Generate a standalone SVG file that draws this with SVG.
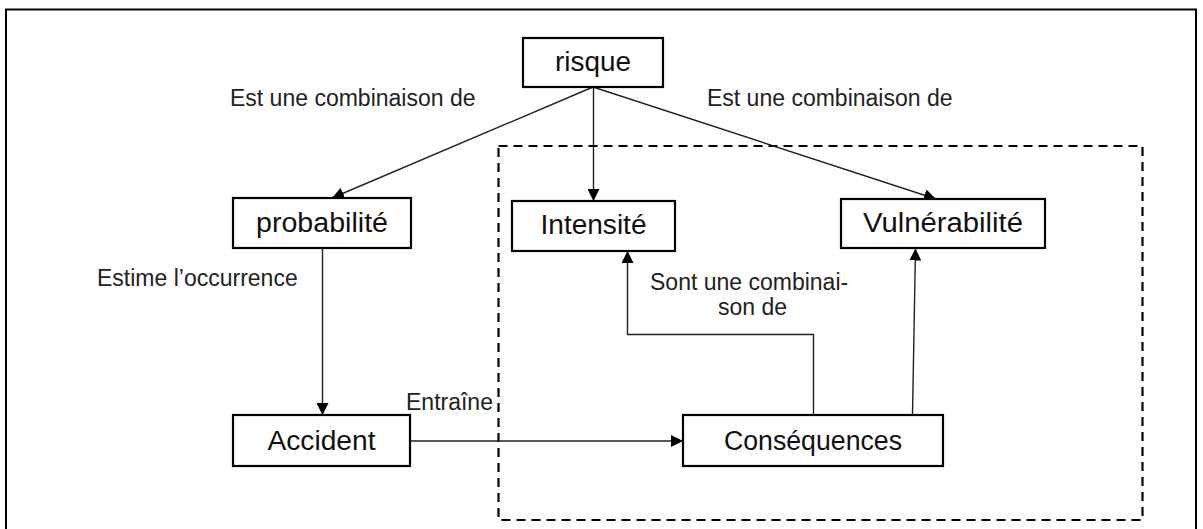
<svg xmlns="http://www.w3.org/2000/svg" width="1203" height="529" viewBox="0 0 1203 529">
<style>
.box{fill:#fff;stroke:#000;stroke-width:2.2}
.nt{font-family:"Liberation Sans",Arial,sans-serif;font-size:27px;fill:#111;text-anchor:middle}
.lt{font-family:"Liberation Sans",Arial,sans-serif;font-size:23px;fill:#222}
.cn{fill:none;stroke:#222;stroke-width:1.4}
</style>
<defs>
<marker id="ah" markerUnits="userSpaceOnUse" viewBox="0 0 12 12" refX="12" refY="6" markerWidth="12" markerHeight="12" orient="auto">
<path d="M0,0 L12,6 L0,12 z" fill="#000"/>
</marker>
</defs>
<rect x="0" y="0" width="1203" height="529" fill="#fff"/>
<rect x="6" y="9.5" width="1190" height="540" fill="none" stroke="#000" stroke-width="2"/>
<rect x="498.5" y="146" width="644" height="374" fill="none" stroke="#000" stroke-width="2.2" stroke-dasharray="9 6"/>
<g id="connectors">
<line class="cn" x1="593" y1="87" x2="332" y2="198" marker-end="url(#ah)"/>
<line class="cn" x1="593.5" y1="87" x2="593.5" y2="201" marker-end="url(#ah)"/>
<line class="cn" x1="593" y1="87" x2="936" y2="199" marker-end="url(#ah)"/>
<line class="cn" x1="322.5" y1="248" x2="322.5" y2="415" marker-end="url(#ah)"/>
<line class="cn" x1="410" y1="441" x2="683" y2="441" marker-end="url(#ah)"/>
<polyline class="cn" points="813.5,415 813.5,334.5 627.5,334.5 627.5,251" marker-end="url(#ah)"/>
<line class="cn" x1="912.5" y1="415" x2="915.5" y2="248.5" marker-end="url(#ah)"/>
</g>
<g id="labels">
<text class="lt" x="230" y="106">Est une combinaison de</text>
<text class="lt" x="707" y="106">Est une combinaison de</text>
<text class="lt" x="97" y="286">Estime l’occurrence</text>
<text class="lt" x="406" y="410">Entraîne</text>
<text class="lt" x="650" y="290">Sont une combinai-</text>
<text class="lt" x="718" y="315">son de</text>
</g>
<g id="risque"><rect class="box" x="523" y="38" width="140" height="49"/><text class="nt" x="593" y="71" textLength="76" lengthAdjust="spacingAndGlyphs">risque</text></g>
<g id="probabilite"><rect class="box" x="233" y="198" width="178" height="50"/><text class="nt" x="322" y="232" textLength="132" lengthAdjust="spacingAndGlyphs">probabilité</text></g>
<g id="intensite"><rect class="box" x="512" y="201" width="163" height="50"/><text class="nt" x="593.5" y="234" textLength="106" lengthAdjust="spacingAndGlyphs">Intensité</text></g>
<g id="vulnerabilite"><rect class="box" x="841" y="199" width="204" height="49"/><text class="nt" x="943" y="232" textLength="160" lengthAdjust="spacingAndGlyphs">Vulnérabilité</text></g>
<g id="accident"><rect class="box" x="233" y="415" width="177" height="51"/><text class="nt" x="321.5" y="449.5" textLength="108" lengthAdjust="spacingAndGlyphs">Accident</text></g>
<g id="consequences"><rect class="box" x="683" y="415" width="260" height="51"/><text class="nt" x="813" y="449.5" textLength="178" lengthAdjust="spacingAndGlyphs">Conséquences</text></g>
</svg>
